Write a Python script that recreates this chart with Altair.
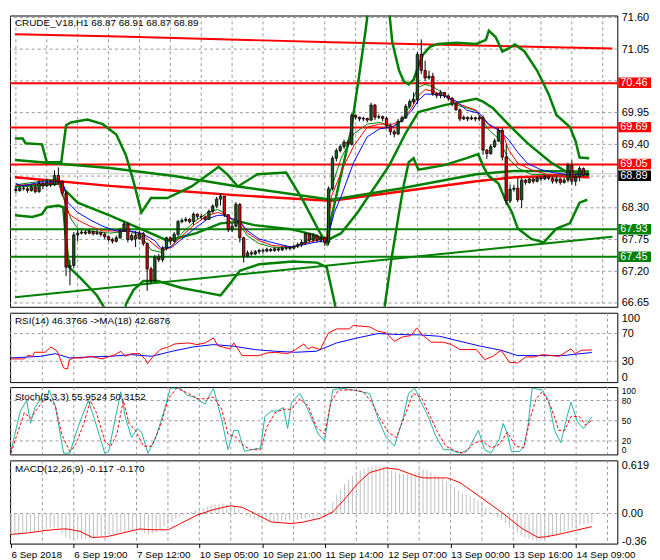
import altair as alt
import pandas as pd

FONT = "Liberation Sans"
W = 613
H_MAIN, H_RSI, H_STO, H_MACD = 294, 70, 68, 84
RED, GREEN, BLUE, GRID = "#ff0000", "#008000", "#0000ff", "#999999"

# ---------------- x axis (hourly bar index) ----------------
x_domain = [-0.25, 154.5]
grid_bars = list(range(0, 153, 8))
x_labels = ["6 Sep 2018", "6 Sep 19:00", "7 Sep 12:00", "10 Sep 05:00", "10 Sep 21:00",
            "11 Sep 14:00", "12 Sep 07:00", "13 Sep 00:00", "13 Sep 16:00", "14 Sep 09:00"]

# ---------------- price panel ----------------
price_domain = [66.584, 71.633]
price_ticks = [71.60, 71.05, 69.95, 69.40, 68.30, 67.75, 67.20, 66.65]
price_grid = [71.60, 71.05, 70.50, 69.95, 69.40, 68.85, 68.30, 67.75, 67.20, 66.65]
red_levels = [70.46, 69.69, 69.05]
green_levels = [67.93, 67.45]
bid_price = 68.89
title_text = "CRUDE_V18,H1  68.87 68.91 68.87 68.89"

open_first = 68.62
close = [68.60,68.64,68.63,68.60,68.66,68.58,68.72,68.68,68.74,68.70,
         68.86,68.75,68.55,67.27,67.30,67.83,67.86,67.88,67.86,67.89,
         67.85,67.87,67.84,67.80,67.75,67.72,67.78,67.90,68.02,67.75,
         67.82,67.76,67.85,67.68,67.24,67.04,67.44,67.40,67.60,67.78,
         67.72,67.84,68.06,68.08,68.10,68.06,68.19,68.15,68.14,68.10,
         68.24,68.33,68.45,68.50,68.18,67.92,67.98,68.36,67.78,67.46,
         67.52,67.50,67.54,67.56,67.55,67.58,67.56,67.59,67.57,67.60,
         67.62,67.60,67.63,67.66,67.70,67.85,67.74,67.82,67.74,67.78,
         67.70,68.63,69.16,69.29,69.36,69.44,69.40,69.90,69.87,69.84,
         69.85,69.82,70.08,69.87,69.88,69.85,69.72,69.62,69.58,69.80,
         69.86,70.06,70.14,70.18,70.96,70.68,70.55,70.58,70.28,70.25,
         70.30,70.24,70.20,70.10,70.00,69.84,69.87,69.84,69.86,69.84,
         69.86,69.30,69.24,69.36,69.46,69.64,69.18,68.42,68.62,68.64,
         68.44,68.78,68.74,68.80,68.76,68.82,68.80,68.84,68.81,68.76,
         68.80,68.74,68.78,69.04,68.76,68.84,68.98,68.87,68.89]
high = [68.66,68.68,68.67,68.66,68.70,68.70,68.78,68.75,68.80,68.78,
        68.95,69.00,68.78,68.58,67.40,67.88,67.92,67.92,67.91,67.93,
        67.90,67.92,67.89,67.87,67.82,67.78,67.82,67.95,68.06,68.05,
        67.86,67.90,67.90,67.88,67.70,67.28,67.48,67.50,67.64,67.80,
        67.80,67.88,68.09,68.12,68.14,68.12,68.22,68.20,68.19,68.17,
        68.27,68.36,68.49,68.55,68.50,68.18,68.04,68.40,68.38,67.80,
        67.56,67.56,67.57,67.59,67.59,67.61,67.60,67.62,67.61,67.63,
        67.65,67.64,67.66,67.70,67.74,67.88,67.86,67.86,67.84,67.82,
        67.80,68.67,69.20,69.33,69.40,69.48,69.47,69.95,69.92,69.88,
        69.88,69.86,70.12,70.10,69.92,69.90,69.88,69.76,69.66,69.84,
        69.90,70.10,70.18,70.30,71.00,71.22,70.85,70.68,70.64,70.30,
        70.34,70.30,70.26,70.22,70.12,70.02,69.90,69.88,69.90,69.88,
        69.90,69.90,69.32,69.40,69.50,69.68,69.68,69.40,68.70,68.70,
        68.82,68.82,68.80,68.83,68.82,68.85,68.85,68.87,68.86,68.84,
        68.85,68.82,68.82,69.08,69.12,68.88,69.02,69.00,68.91]
low = [68.55,68.58,68.60,68.56,68.58,68.55,68.56,68.62,68.66,68.66,
       68.68,68.72,68.50,67.12,66.96,67.25,67.72,67.84,67.83,67.84,
       67.82,67.83,67.80,67.76,67.72,67.68,67.70,67.76,67.88,67.70,
       67.72,67.62,67.76,67.64,66.86,66.98,67.02,67.36,67.36,67.56,
       67.66,67.70,67.80,68.03,68.05,68.03,68.00,68.10,68.10,68.08,
       68.10,68.20,68.30,68.34,68.14,67.88,67.88,67.96,67.70,67.35,
       67.44,67.47,67.48,67.50,67.51,67.53,67.53,67.54,67.54,67.55,
       67.56,67.56,67.58,67.60,67.62,67.66,67.70,67.70,67.70,67.70,
       67.64,67.65,68.60,69.10,69.26,69.32,69.36,69.38,69.83,69.80,
       69.80,69.78,69.80,69.82,69.84,69.80,69.68,69.56,69.52,69.56,
       69.78,69.84,70.02,70.10,70.10,70.62,70.50,70.52,70.24,70.20,
       70.20,70.20,70.16,70.06,69.98,69.80,69.82,69.80,69.82,69.80,
       69.80,69.22,69.15,69.22,69.34,69.44,69.12,68.35,68.38,68.58,
       68.40,68.30,68.70,68.72,68.72,68.74,68.76,68.78,68.78,68.72,
       68.72,68.70,68.72,68.74,68.70,68.68,68.76,68.84,68.87]

# long lines on the price panel: [bar, price]
trend_red = [[-0.25, 71.31], [26.75, 71.27], [81.75, 71.17], [154.5, 71.06]]
trend_green = [[-0.25, 66.75], [154.5, 67.80]]
ma_long_red = [[-0.25, 68.83], [24.25, 68.68], [40.5, 68.60], [56.75, 68.52], [76.75, 68.44],
               [81.75, 68.42], [99.25, 68.58], [119.25, 68.76], [129.25, 68.83], [139.25, 68.85],
               [148.5, 68.83]]
ma_long_green = [[-0.25, 69.13], [24.25, 68.99], [41, 68.85], [57.5, 68.67], [81.75, 68.44],
                 [99.25, 68.63], [119.25, 68.88], [129.25, 68.94], [148.5, 68.93]]
bb_upper = [[-0.25, 69.50], [1.75, 69.50], [2.5, 69.42], [6.75, 69.40], [8, 69.09], [11.75, 69.09],
            [13, 69.73], [14.25, 69.78], [18.5, 69.83], [22.5, 69.75], [26, 69.57], [28.5, 69.21],
            [30.5, 68.75], [32.5, 68.22], [35, 68.47], [39.25, 68.47], [45.5, 68.67], [50.5, 68.91],
            [52.5, 69.01], [54.75, 68.88], [57.5, 68.67], [62.5, 68.88], [70, 68.91], [74.25, 68.44],
            [78.5, 67.90], [80.5, 67.68], [81.75, 68.14], [84.25, 68.88], [86.75, 69.62],
            [88.75, 70.52], [90.5, 71.34], [91.75, 71.99], [93.75, 72.65], [96.25, 71.99],
            [97.5, 71.17], [99.25, 70.68], [100.5, 70.49], [101.75, 70.44], [103, 70.52],
            [104.25, 70.76], [105.5, 70.96], [107.25, 71.09], [109.25, 71.14], [114.25, 71.16],
            [119.25, 71.14], [121.75, 71.21], [122.5, 71.37], [124.25, 71.26], [126, 71.01],
            [127.5, 71.06], [129.25, 71.13], [131.75, 71.01], [135, 70.68], [138, 70.27],
            [140, 69.91], [143.5, 69.70], [145, 69.45], [146, 69.17], [148.5, 69.16]]
bb_mid = [[-0.25, 68.67], [11.75, 68.72], [12.5, 68.62], [16, 68.39], [24.25, 68.17], [32.5, 67.93],
          [39.25, 67.73], [46.75, 67.86], [53, 68.03], [58, 68.06], [61.75, 68.00], [71.25, 67.93],
          [77.25, 67.83], [80.5, 67.73], [84.25, 67.86], [88.5, 68.22], [96.75, 69.04],
          [101, 69.60], [104.25, 69.96], [111, 70.08], [119.25, 70.19], [121, 70.14],
          [123.5, 70.03], [127.5, 69.75], [132.5, 69.42], [138.5, 69.09], [142.5, 68.93],
          [148.5, 68.88]]
bb_lower = [[-0.25, 68.17], [4.25, 68.14], [6.75, 68.19], [8, 68.31], [11, 68.34], [12.25, 68.31],
            [13, 67.73], [13.75, 67.27], [16.75, 67.08], [21, 66.78], [24.25, 66.42], [26.75, 66.17],
            [27.5, 66.0], [28.5, 66.63], [30.5, 66.88], [33, 67.03], [36.75, 67.03], [43, 66.91],
            [49.25, 66.83], [53, 66.78], [55.5, 66.99], [58, 67.21], [63, 67.32], [71.75, 67.37],
            [78, 67.35], [80.5, 67.27], [82.25, 66.75], [84.25, 66.09], [89, 65.2], [93.75, 66.09],
            [95.5, 66.58], [97.25, 67.40], [99.25, 68.22], [100.5, 68.71], [101.75, 69.09],
            [103, 69.16], [104.25, 68.96], [106.75, 68.99], [111, 69.04], [116.75, 69.16],
            [119.75, 69.23], [121.25, 68.99], [122.5, 68.85], [125, 68.72], [126.75, 68.44],
            [128.5, 68.22], [130, 67.94], [133.5, 67.76], [136.75, 67.70], [140, 67.94],
            [143.5, 68.03], [146, 68.39], [148, 68.44]]
ma_blue = [[0, 68.72], [1.75, 68.68], [6.75, 68.75], [11, 68.75], [12.5, 68.67], [13.5, 68.39],
           [16, 68.22], [19.25, 68.09], [22.5, 67.98], [26, 67.90], [29.25, 67.90], [32.5, 67.86],
           [36, 67.73], [37.5, 67.60], [40.5, 67.62], [43, 67.76], [46.25, 67.94], [49.75, 68.11],
           [52.25, 68.17], [53.75, 68.17], [56, 68.11], [58, 68.06], [60, 67.90], [63, 67.76],
           [66.25, 67.70], [71.25, 67.62], [73.75, 67.65], [77.25, 67.70], [80.5, 67.73],
           [82.5, 68.22], [84.25, 68.50], [87.5, 69.09], [91, 69.53], [94.25, 69.67], [97.5, 69.70],
           [100, 69.81], [102.5, 69.98], [104.25, 70.16], [106, 70.27], [108, 70.27], [111, 70.24],
           [114.25, 70.14], [116.75, 69.99], [120, 69.94], [122.5, 69.75], [125, 69.65],
           [127.5, 69.49], [130, 69.26], [132.5, 69.07], [136, 68.96], [139.25, 68.91],
           [142.5, 68.88], [148.5, 68.88]]
ma_red = [[0, 68.69], [11, 68.73], [13.75, 68.19], [16, 68.09], [19.25, 67.98], [22.5, 67.90],
          [26, 67.90], [29.25, 67.90], [32.5, 67.85], [36, 67.65], [37.5, 67.57], [39.75, 67.60],
          [43, 67.81], [46.25, 68.01], [49.75, 68.17], [52.25, 68.22], [53.75, 68.19], [56, 68.11],
          [58, 68.06], [60, 67.86], [63, 67.73], [66.25, 67.65], [71.25, 67.62], [77.25, 67.73],
          [80.5, 67.76], [81.75, 68.50], [85, 69.04], [87.5, 69.37], [91, 69.70], [94.25, 69.75],
          [97.5, 69.75], [100, 69.81], [102.5, 70.03], [104.25, 70.24], [106, 70.35], [108, 70.32],
          [111, 70.24], [114.25, 70.11], [119.25, 69.99], [120, 69.91], [122.5, 69.73],
          [126, 69.62], [127.5, 69.32], [130, 69.07], [133.5, 68.96], [137.5, 68.88], [148.5, 68.88]]
ma_green = [[0, 68.70], [11, 68.80], [13, 68.34], [14.25, 68.11], [16, 67.94], [19.25, 67.90],
            [24.25, 67.86], [29.25, 67.90], [32.5, 67.81], [35, 67.57], [37.5, 67.53], [40.5, 67.65],
            [43, 67.86], [46.25, 68.06], [49.75, 68.22], [52.25, 68.27], [53.75, 68.22], [56, 68.09],
            [58, 68.01], [60, 67.81], [63, 67.68], [66.25, 67.62], [71.25, 67.60], [77.25, 67.78],
            [80.5, 67.78], [81, 68.50], [84.25, 69.16], [87.5, 69.58], [91, 69.75], [94.25, 69.78],
            [97.5, 69.70], [100, 69.81], [102.5, 70.14], [104.25, 70.39], [106, 70.44], [108, 70.40],
            [111, 70.27], [114.25, 70.08], [119.25, 69.98], [120, 69.90], [122.5, 69.65],
            [125, 69.50], [127.5, 69.16], [130, 68.99], [133.5, 68.88], [148.5, 68.86]]

# ---------------- RSI panel ----------------
rsi_title = "RSI(14) 46.3766  ->MA(18) 42.6876"
rsi_ticks = [100, 70, 30, 0]
rsi_grid = [70, 30]
rsi_line = [[0, 33.4], [3.4, 33.4], [4.3, 38.7], [5.5, 37.2], [6, 43], [8.7, 43], [10.2, 50.7],
            [11.8, 44.5], [13.4, 20.4], [14.4, 19], [14.9, 32.4], [16, 34.8], [18.1, 34.8],
            [20.2, 37.2], [23.3, 33.4], [26.5, 39.6], [28, 44.5], [29.1, 37.2], [30.7, 41],
            [32.8, 41], [34.3, 32.4], [34.8, 26.6], [35.9, 34.8], [38, 46.9], [40.1, 50.7],
            [41.7, 55], [45.3, 56.5], [47.4, 54.1], [49.5, 56.5], [51.6, 63.7], [52.7, 52.7],
            [55.8, 47.8], [56.8, 56.5], [58.9, 38.2], [63.1, 38.2], [65.2, 42], [67.3, 43],
            [70.5, 41], [72.5, 46.9], [74.6, 55], [75.7, 47.8], [76.7, 50.7], [78.8, 46.9],
            [80.9, 71], [83, 76.7], [86.2, 76.7], [87.2, 81.6], [91.4, 79.6], [93.5, 73.4],
            [95.6, 71], [97.7, 58.9], [99.8, 65.2], [101.9, 67.1], [103.4, 78.2], [105, 67.1],
            [107.1, 57.5], [110.2, 57.5], [112.3, 54.1], [114.4, 46.9], [118.6, 46.9],
            [120.7, 32.4], [122.8, 37.2], [124.9, 45.9], [127, 28.6], [129.1, 27.6], [131.2, 36.3],
            [133.3, 36.3], [135.4, 39.6], [139.6, 37.2], [142.7, 47.8], [143.8, 41], [145.3, 45.9],
            [148, 46.4]]
rsi_ma = [[0, 34.8], [7.6, 37.2], [11.3, 41], [15, 34.8], [20.2, 36.3], [25.4, 37.2], [30.7, 39.6],
          [35.9, 37.2], [41.1, 44.5], [46.4, 50.7], [51.6, 54.1], [56.8, 51.7], [62.1, 46.9],
          [67.3, 44.5], [72.5, 43], [77.8, 44.5], [83, 56.5], [88.3, 63.7], [93.5, 70],
          [98.7, 68.6], [104, 68.1], [109.2, 66.1], [114.4, 58.9], [119.7, 51.7], [124.9, 45.9],
          [129.1, 38.2], [135.4, 38.2], [140.6, 38.2], [148, 42.7]]

# ---------------- Stochastic panel ----------------
sto_title = "Stoch(5,3,3) 55.9524 50.3152"
sto_ticks = [100, 80, 50, 20, 0]
sto_grid = [80, 50, 20]
sto_k = [[0, 4.4], [0.8, 25.2], [2.4, 64.4], [4, 80], [5, 46], [6.1, 69.6], [7.6, 82.6], [9.2, 82.6],
         [9.7, 95.6], [11.3, 72.2], [13.4, 1.8], [15, 1.8], [16.5, 30.4], [18.1, 56.5], [19.7, 80],
         [21.2, 53.9], [23.9, 1.8], [24.9, 4.4], [26.5, 51.3], [28, 93], [29.1, 56.5], [30.7, 25.2],
         [32.2, 38.3], [33.3, 33], [34.9, 1.8], [36.9, 25.2], [39, 64.4], [40.6, 98.3], [43.2, 98.3],
         [44.8, 87.8], [46.9, 85.2], [47.9, 80], [49.5, 74.8], [51.6, 98.3], [53.7, 51.3], [55.3, 7],
         [56.8, 35.7], [57.9, 35.7], [59.5, 4.4], [61, 7], [63.6, 9.6], [64.7, 56.5], [66.3, 64.4],
         [67.8, 64.4], [69.4, 69.6], [70.5, 38.3], [71.5, 77.4], [73.6, 90.4], [74.6, 80],
         [76.2, 59.1], [78.3, 30.4], [79.9, 20], [82, 95.6], [84.1, 98.3], [87.2, 95.6], [89.3, 93],
         [91.4, 90.4], [93.5, 53.9], [95.6, 25.2], [97.7, 12.2], [99.8, 51.3], [101.3, 90.4],
         [102.9, 98.3], [104.5, 77.4], [106.1, 59.1], [108.2, 27.8], [110.2, 7], [111.8, 7],
         [114.4, 1.8], [116.5, 7], [119.1, 35.7], [120.7, 7], [122.3, 1.8], [124.4, 22.6],
         [125.4, 46], [126.5, 30.4], [127.5, 4.4], [129.6, 4.4], [130.7, 12.2], [131.7, 40.9],
         [132.8, 98.3], [135.4, 95.6], [137, 80], [138.5, 35.7], [140.1, 17.4], [141.7, 56.5],
         [142.7, 77.4], [144.3, 48.7], [145.9, 38.3], [148, 55.95]]
sto_d = [[0, 1.8], [1.3, 25.2], [3.4, 61.7], [5, 53.9], [6.6, 67], [8.2, 80], [9.7, 82.6], [11.3, 72.2],
         [12.9, 30.4], [15, 4.4], [16.5, 14.8], [18.6, 46], [20.2, 80], [21.8, 61.7], [23.9, 20],
         [25.4, 12.2], [27, 30.4], [28.6, 80], [30.1, 46], [31.7, 35.7], [33.8, 12.2], [35.9, 12.2],
         [38, 40.9], [40.1, 82.6], [42.2, 98.3], [45.3, 90.4], [47.4, 82.6], [49.5, 82.6],
         [51.6, 85.2], [53.7, 67], [55.3, 30.4], [57.4, 25.2], [58.9, 14.8], [61, 7], [63.6, 7],
         [65.2, 40.9], [67.3, 61.7], [69.4, 67], [71.5, 67], [73.6, 82.6], [75.7, 72.2],
         [77.8, 40.9], [79.9, 30.4], [81.5, 77.4], [83.5, 95.6], [87.2, 95.6], [89.8, 93],
         [91.9, 77.4], [94, 53.9], [96.1, 33], [98.2, 25.2], [100.3, 56.5], [102.4, 90.4],
         [104.5, 85.2], [106.6, 59.1], [108.7, 33], [110.8, 12.2], [113.4, 4.4], [115.5, 1.8],
         [118.1, 17.4], [120.2, 20], [122.3, 9.6], [124.4, 14.8], [126.5, 33], [128.6, 12.2],
         [130.7, 9.6], [132.2, 51.3], [133.8, 82.6], [135.4, 93], [137.5, 72.2], [139.6, 35.7],
         [141.1, 35.7], [142.7, 56.5], [144.8, 56.5], [146.4, 43.5], [148, 50.3]]

# ---------------- MACD panel ----------------
macd_title = "MACD(12,26,9) -0.117 -0.170"
macd_domain = [-0.389, 0.687]
macd_ticks = [0.619, 0.0, -0.36]
macd_tick_text = ["0.619", "0.00", "-0.36"]
macd_grid = [0.0]
macd_hist = ([-0.27, -0.27, -0.26, -0.26, -0.25]
             + [-0.24, -0.23, -0.22, -0.21, -0.20, -0.19, -0.18, -0.19]
             + [-0.26, -0.31, -0.33, -0.34, -0.34, -0.33, -0.33, -0.32]
             + [-0.31, -0.30, -0.30, -0.29, -0.28, -0.27, -0.26, -0.24]
             + [-0.24, -0.23, -0.23, -0.22, -0.22]
             + [-0.25, -0.27, -0.26, -0.24, -0.21, -0.17, -0.14, -0.11]
             + [-0.07, -0.04, -0.02, 0.00, 0.02]
             + [0.04, 0.06, 0.07, 0.09, 0.11, 0.12, 0.12, 0.13]
             + [0.11, 0.08, 0.09, 0.05, 0.00, -0.03, -0.05, -0.07]
             + [-0.08, -0.09, -0.09, -0.10, -0.10, -0.10, -0.10, -0.09, -0.09, -0.09, -0.08, -0.07,
                -0.06, -0.05, -0.05, -0.04, -0.04, -0.03]
             + [0.04, 0.15, 0.24, 0.31, 0.38, 0.44, 0.49, 0.53, 0.56, 0.58, 0.60, 0.61, 0.619, 0.61,
                0.60, 0.58, 0.56, 0.54, 0.52, 0.51, 0.51, 0.52, 0.53]
             + [0.56, 0.57, 0.56, 0.53, 0.50, 0.48, 0.45, 0.42, 0.38, 0.34, 0.30, 0.27, 0.24, 0.22,
                0.20, 0.17, 0.13, 0.08, 0.02, -0.03, -0.05, -0.08, -0.12, -0.18, -0.22, -0.25, -0.28,
                -0.31, -0.33, -0.34, -0.36, -0.35, -0.33, -0.31, -0.29, -0.27, -0.25, -0.23, -0.21,
                -0.19, -0.17, -0.15, -0.14, -0.13, -0.117])
macd_signal = [[0, -0.27], [4.5, -0.25], [8.7, -0.22], [12.9, -0.20], [14.4, -0.20], [17.6, -0.23],
               [20.7, -0.31], [24.4, -0.30], [28.6, -0.25], [32.8, -0.20], [35.9, -0.21],
               [40.1, -0.21], [43.2, -0.13], [47.4, -0.02], [51.6, 0.05], [55.8, 0.10], [58.9, 0.08],
               [62.1, 0.0], [66.3, -0.11], [71.5, -0.13], [74.6, -0.11], [78.8, -0.06], [82, 0.02],
               [85.1, 0.19], [88.2, 0.38], [91.4, 0.53], [95.6, 0.59], [98.7, 0.57], [102.9, 0.49],
               [105, 0.46], [111.3, 0.46], [114.4, 0.40], [119.7, 0.21], [124.9, 0.02],
               [130.1, -0.19], [134.3, -0.31], [136.4, -0.30], [139.5, -0.27], [143.7, -0.22],
               [148, -0.17]]

# ====================== build ======================
xs = alt.Scale(domain=x_domain, nice=False, zero=False)


def pairs_df(pairs):
    return pd.DataFrame(pairs, columns=["bar", "v"])


def hidden_x_axis():
    return alt.Axis(values=grid_bars, grid=False, labels=False, ticks=False, domain=False, title=None)


def right_axis(values, flush, label_expr=None, fmt=None, size=11):
    kw = dict(orient="right", values=values, grid=False, domain=False, ticks=False,
              labelPadding=4, title=None, labelFlush=flush, labelOverlap=False, labelFontSize=size)
    if label_expr:
        kw["labelExpr"] = label_expr
    if fmt:
        kw["format"] = fmt
    return alt.Axis(**kw)


def line(pairs, ys, xax, yax, color, width=1.0, dash=None):
    kw = dict(color=color, strokeWidth=width, clip=True)
    if dash:
        kw["strokeDash"] = dash
    return alt.Chart(pairs_df(pairs)).mark_line(**kw).encode(
        x=alt.X("bar:Q", scale=xs, axis=xax), y=alt.Y("v:Q", scale=ys, axis=yax))


def hrules(values, ys, yax, color, width, dash=None):
    kw = dict(color=color, strokeWidth=width)
    if dash:
        kw["strokeDash"] = dash
    return alt.Chart(pd.DataFrame({"v": values})).mark_rule(**kw).encode(
        y=alt.Y("v:Q", scale=ys, axis=yax))


def vgrid(xax):
    return alt.Chart(pd.DataFrame({"bar": grid_bars})).mark_rule(
        color=GRID, strokeWidth=1, strokeDash=[3, 3]).encode(
        x=alt.X("bar:Q", scale=xs, axis=xax))


def corner_text(txt, ypix):
    return alt.Chart(pd.DataFrame({"t": [txt]})).mark_text(
        align="left", baseline="middle", font=FONT, fontSize=10, color="black").encode(
        x=alt.value(5), y=alt.value(ypix), text="t:N")


# ---- price panel
ys_p = alt.Scale(domain=price_domain, nice=False, zero=False)
xax_p = hidden_x_axis()
yax_p = right_axis(price_ticks, False, fmt=".2f")
n = len(close)
opens = [open_first] + close[:-1]
candles = pd.DataFrame({"bar": list(range(n)), "open": opens, "close": close,
                        "high": high, "low": low})

wicks = alt.Chart(candles).mark_rule(color="black", strokeWidth=1).encode(
    x=alt.X("bar:Q", scale=xs, axis=xax_p),
    y=alt.Y("low:Q", scale=ys_p, axis=yax_p), y2="high:Q")
bodies = alt.Chart(candles).mark_bar(size=2.4, stroke="black", strokeWidth=0.8).encode(
    x=alt.X("bar:Q", scale=xs, axis=xax_p),
    y=alt.Y("open:Q", scale=ys_p, axis=yax_p),
    y2="close:Q",
    color=alt.condition("datum.close >= datum.open", alt.value("#1e5e1e"), alt.value("#e00000")))

box_path = "M-1,-0.32L1,-0.32L1,0.32L-1,0.32Z"


def level_boxes(prices, fill, nudge):
    df = pd.DataFrame({"v": prices, "label": [f"{p:.2f}" for p in prices]})
    box = alt.Chart(df).mark_point(shape=box_path, size=33 * 33, filled=True, opacity=1,
                                   strokeWidth=0, color=fill, yOffset=nudge).encode(
        x=alt.value(W + 17.5), y=alt.Y("v:Q", scale=ys_p, axis=yax_p))
    txt = alt.Chart(df).mark_text(align="left", baseline="middle", font=FONT, fontSize=11,
                                  color="white", yOffset=nudge).encode(
        x=alt.value(W + 3), y=alt.Y("v:Q", scale=ys_p, axis=yax_p), text="label:N")
    return [box, txt]


main = alt.layer(
    vgrid(xax_p),
    hrules(price_grid, ys_p, yax_p, GRID, 1, dash=[3, 3]),
    hrules([bid_price], ys_p, yax_p, "#c8c8c8", 1),
    hrules(red_levels, ys_p, yax_p, RED, 2),
    hrules(green_levels, ys_p, yax_p, GREEN, 2),
    line(trend_red, ys_p, xax_p, yax_p, RED, 2),
    line(trend_green, ys_p, xax_p, yax_p, GREEN, 2),
    line(ma_long_red, ys_p, xax_p, yax_p, RED, 2.5),
    line(ma_long_green, ys_p, xax_p, yax_p, GREEN, 2.5),
    line(bb_upper, ys_p, xax_p, yax_p, GREEN, 2.5),
    line(bb_mid, ys_p, xax_p, yax_p, GREEN, 2.5),
    line(bb_lower, ys_p, xax_p, yax_p, GREEN, 2.5),
    line(ma_green, ys_p, xax_p, yax_p, GREEN, 1),
    line(ma_red, ys_p, xax_p, yax_p, RED, 1),
    line(ma_blue, ys_p, xax_p, yax_p, BLUE, 1),
    wicks, bodies,
    corner_text(title_text, 8),
    *level_boxes(red_levels, RED, -0.5),
    *level_boxes([bid_price], "#000000", 2),
    *level_boxes(green_levels, GREEN, 0),
).properties(width=W, height=H_MAIN)

# ---- RSI
ys_r = alt.Scale(domain=[0, 100], nice=False, zero=False)
xax_r = hidden_x_axis()
yax_r = right_axis(rsi_ticks, True)
rsi = alt.layer(
    vgrid(xax_r),
    hrules(rsi_grid, ys_r, yax_r, GRID, 1, dash=[3, 3]),
    line(rsi_ma, ys_r, xax_r, yax_r, BLUE, 1),
    line(rsi_line, ys_r, xax_r, yax_r, RED, 1),
    corner_text(rsi_title, 8),
).properties(width=W, height=H_RSI)

# ---- Stochastic
ys_s = alt.Scale(domain=[0, 100], nice=False, zero=False)
xax_s = hidden_x_axis()
yax_s = right_axis(sto_ticks, 2, size=8.5)
sto = alt.layer(
    vgrid(xax_s),
    hrules(sto_grid, ys_s, yax_s, GRID, 1, dash=[3, 3]),
    line(sto_k, ys_s, xax_s, yax_s, "#20b2aa", 1),
    line(sto_d, ys_s, xax_s, yax_s, RED, 1, dash=[3, 2]),
    corner_text(sto_title, 10),
).properties(width=W, height=H_STO)

# ---- MACD
ys_m = alt.Scale(domain=macd_domain, nice=False, zero=False)
lab_js = "[" + ",".join(f"'{s}'" for s in x_labels) + "]"
macd_lab_js = "[" + ",".join(f"'{s}'" for s in macd_tick_text) + "]"
macd_val_js = "[" + ",".join(str(t) for t in macd_ticks) + "]"
xax_m = alt.Axis(
    values=grid_bars, grid=False, domain=False,
    labelExpr=f"datum.value % 16 === 0 ? {lab_js}[datum.value / 16] : ''",
    labelAlign="left", labelBaseline="top", labelPadding=2, labelOverlap=False, labelFlush=False,
    labelBound=False, labelFontSize=10, tickSize=4, tickColor="black",
    tickOpacity={"condition": {"test": "datum.value % 16 === 0", "value": 1}, "value": 0},
    title=None)
yax_m = right_axis(macd_ticks, True,
                   label_expr=f"{macd_lab_js}[indexof({macd_val_js}, datum.value)]")
hist_df = pd.DataFrame({"bar": list(range(len(macd_hist))), "v": macd_hist, "base": 0.0})
hist = alt.Chart(hist_df).mark_rule(color="#c0c0c0", strokeWidth=1).encode(
    x=alt.X("bar:Q", scale=xs, axis=xax_m),
    y=alt.Y("base:Q", scale=ys_m, axis=yax_m), y2="v:Q")
macd = alt.layer(
    vgrid(xax_m),
    hrules(macd_grid, ys_m, yax_m, GRID, 1, dash=[3, 3]),
    hist,
    line(macd_signal, ys_m, xax_m, yax_m, RED, 1),
    corner_text(macd_title, 9),
).properties(width=W, height=H_MACD)

chart = alt.vconcat(main, rsi, sto, macd, spacing=3).configure_view(
    stroke="black", strokeWidth=1).configure_axis(
    labelFont=FONT, labelFontSize=11, labelColor="black").properties(
    padding=0, background="white")

chart.save("out.html", embed_options={"renderer": "svg", "actions": False})
